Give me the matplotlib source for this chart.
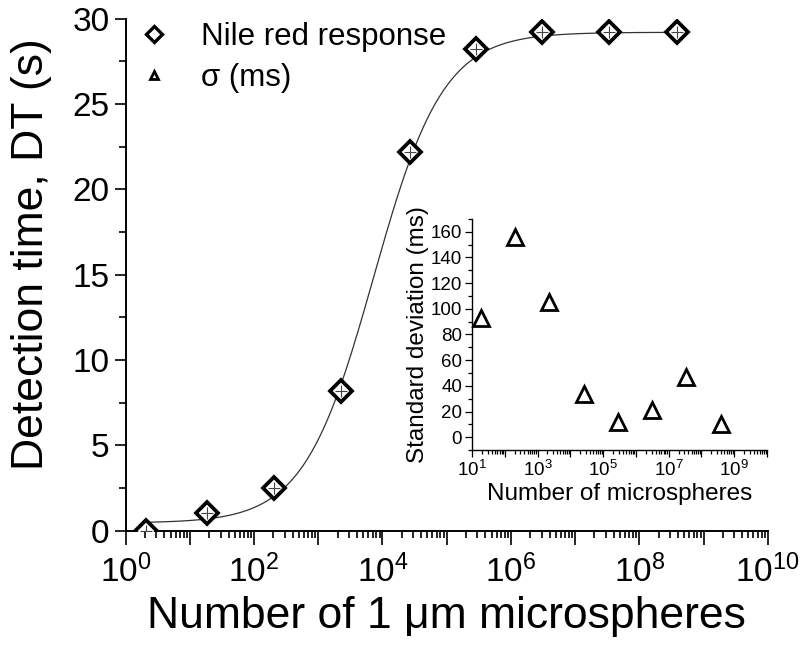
import matplotlib

matplotlib.use("Agg")
import matplotlib.pyplot as plt
import numpy as np
from matplotlib.lines import Line2D
from matplotlib.ticker import FixedLocator, LogLocator, NullFormatter, FuncFormatter

plt.rcParams["font.family"] = ["Liberation Sans", "DejaVu Sans"]
plt.rcParams["mathtext.fontset"] = "custom"
plt.rcParams["mathtext.rm"] = "Liberation Sans"
plt.rcParams["mathtext.it"] = "Liberation Sans:italic"

# microsphere counts per dilution and measured responses
n_spheres = [2.1, 18.6, 204, 2240, 26900, 2.88e5, 3.0e6, 3.4e7, 3.9e8]
detection_time = [0.0, 1.05, 2.5, 8.2, 22.2, 28.2, 29.2, 29.2, 29.2]

# standard deviation of the detection time (inset), for dilutions 2..9
sigma_n = n_spheres[1:]
sigma_ms = [93, 156, 105, 34, 12, 21, 47, 10]

# dose-response (logistic in log10 N) fit parameters
fit_a1, fit_a2, fit_logx0, fit_p = 0.45, 29.2, 3.86, 0.80


def dose_response(n):
    return fit_a1 + (fit_a2 - fit_a1) / (1 + 10 ** ((fit_logx0 - np.log10(n)) * fit_p))


def decade_label(keep):
    def fmt(v, pos):
        e = int(round(np.log10(v)))
        return rf"$10^{{{e}}}$" if e % 2 == keep else ""
    return FuncFormatter(fmt)


fig = plt.figure(figsize=(8.04, 6.49), dpi=100)
ax = fig.add_axes([0.1563, 0.1823, 0.7986, 0.789])

xs = np.logspace(np.log10(n_spheres[0]), np.log10(n_spheres[-1]), 400)
ax.plot(xs, dose_response(xs), color="#333333", lw=0.9, zorder=2)
ax.plot(n_spheres, detection_time, ls="none", marker="D", ms=11, mfc="white",
        mec="black", mew=2.7, zorder=3)
ax.plot(n_spheres, detection_time, ls="none", marker="+", ms=8, mec="#444444",
        mew=0.8, zorder=4)

ax.set_xscale("log")
ax.set_xlim(1, 1e10)
ax.set_ylim(0, 30)
for s in ("top", "right"):
    ax.spines[s].set_visible(False)
for s in ("left", "bottom"):
    ax.spines[s].set_linewidth(1.4)
ax.xaxis.set_major_locator(LogLocator(base=10, numticks=20))
ax.xaxis.set_minor_locator(LogLocator(base=10, subs=np.arange(2, 10), numticks=20))
ax.xaxis.set_minor_formatter(NullFormatter())
ax.xaxis.set_major_formatter(decade_label(0))
ax.yaxis.set_major_locator(FixedLocator([0, 5, 10, 15, 20, 25, 30]))
ax.yaxis.set_minor_locator(FixedLocator(np.arange(2.5, 30, 5)))
ax.tick_params(which="both", direction="out", labelsize=24, width=1.2)
ax.tick_params(which="major", length=8)
ax.tick_params(which="minor", length=5)
ax.tick_params(axis="x", which="major", length=10, pad=7)
ax.set_xlabel("Number of 1 μm microspheres", fontsize=32, labelpad=5)
ax.set_ylabel("Detection time, DT (s)", fontsize=32)
ax.yaxis.set_label_coords(-0.114, 0.54)

handles = [
    Line2D([], [], ls="none", marker="D", ms=8, mfc="white", mec="black", mew=2.4),
    Line2D([], [], ls="none", marker="^", ms=6, mfc="white", mec="black", mew=2.0),
]
ax.legend(handles, ["Nile red response", "σ (ms)"], loc="upper left",
          bbox_to_anchor=(-0.038, 1.049), frameon=False, fontsize=22.5,
          handletextpad=0.7, labelspacing=0.35, handlelength=1.6)

# inset: spread of the detection time
ins = fig.add_axes([0.587, 0.3066, 0.367, 0.356])
ins.plot(sigma_n, sigma_ms, ls="none", marker="^", ms=11, mfc="white",
         mec="black", mew=2.0, clip_on=False)
ins.set_xscale("log")
ins.set_xlim(10, 1e10)
ins.set_ylim(-10, 170)
ins.patch.set_alpha(0)
for s in ("top", "right"):
    ins.spines[s].set_visible(False)
for s in ("left", "bottom"):
    ins.spines[s].set_linewidth(1.0)
ins.xaxis.set_major_locator(LogLocator(base=10, numticks=20))
ins.xaxis.set_minor_locator(LogLocator(base=10, subs=np.arange(2, 10), numticks=20))
ins.xaxis.set_minor_formatter(NullFormatter())
ins.xaxis.set_major_formatter(decade_label(1))
ins.yaxis.set_major_locator(FixedLocator(np.arange(0, 161, 20)))
ins.yaxis.set_minor_locator(FixedLocator(np.arange(-10, 171, 20)))
ins.tick_params(which="both", direction="out", labelsize=13.5, width=0.9, pad=2)
ins.tick_params(which="major", length=5)
ins.tick_params(which="minor", length=3)
ins.set_xlabel("Number of microspheres", fontsize=17.5, labelpad=2)
ins.set_ylabel("Standard deviation (ms)", fontsize=17.5, labelpad=1)

fig.savefig("out.png", dpi=100)
